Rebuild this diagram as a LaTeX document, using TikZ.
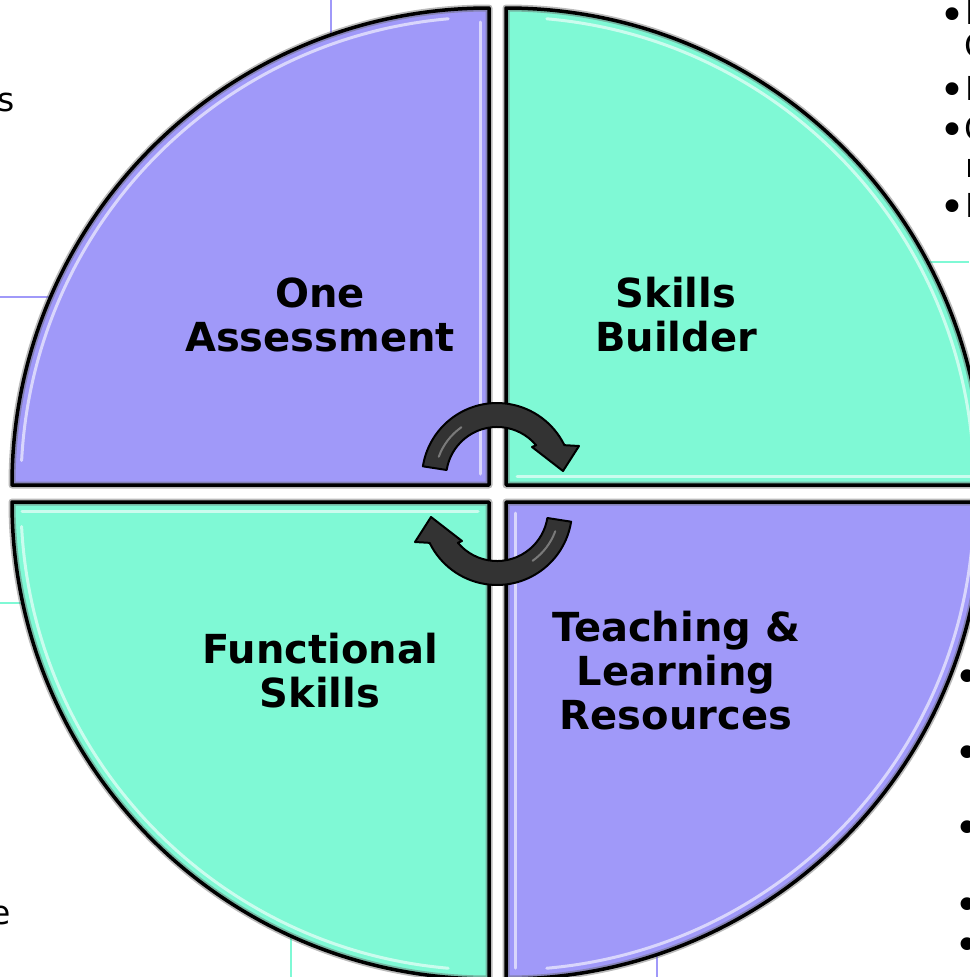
\documentclass[tikz,border=0pt]{standalone}
\usepackage{fontspec}
\setmainfont{DejaVu Sans}
\definecolor{lav}{HTML}{A099F9}
\definecolor{mint}{HTML}{7FF9D5}
\definecolor{arrowgray}{HTML}{333333}
\tikzset{
  bgline/.style={line width=2},
  quad/.style={draw=black, line width=3.5, line join=round},
  shade/.style={draw=black!60, line width=7, opacity=.45, line join=round},
  glint/.style={draw=white, line width=3, opacity=.6, line cap=round},
  arrowbody/.style={fill=arrowgray, draw=black, line width=2, line join=round},
  arrowglint/.style={draw=white, line width=2, opacity=.35, line cap=round},
  lbl/.style={font=\bfseries\fontsize{40}{44}\selectfont, align=center, inner sep=0},
  frag/.style={font=\fontsize{33}{38}\selectfont, inner sep=0},
  bul/.style={font=\fontsize{44}{50}\selectfont, inner sep=0, anchor=base west}
}
\begin{document}
\begin{tikzpicture}[x=1pt,y=-1pt]
\useasboundingbox (0,0) rectangle (969,977);
% background table lines
\draw[bgline, lav] (331,0) -- (331,40);
\draw[bgline, lav] (0,297) -- (60,297);
\draw[bgline, mint] (920,262) -- (969,262);
\draw[bgline, mint] (0,603) -- (30,603);
\draw[bgline, mint] (291,930) -- (291,977);
\draw[bgline, lav] (657,950) -- (657,977);
% quadrants
\fill[lav] (489,485) -- (489,8) arc[start angle=270,end angle=180,radius=477] -- cycle;
\fill[mint] (506,485) -- (506,8) arc[start angle=270,end angle=360,radius=477] -- cycle;
\fill[mint] (489,502) -- (12,502) arc[start angle=180,end angle=90,radius=477] -- cycle;
\fill[lav] (506,502) -- (983,502) arc[start angle=0,end angle=90,radius=477] -- cycle;
% bevel highlights
\draw[glint] (480,22) -- (480,474);
\draw[glint] (448.2,18.8) arc[start angle=265,end angle=183,radius=468];
\draw[glint] (517,476) -- (975,476);
\draw[glint] (546.8,18.8) arc[start angle=275,end angle=357,radius=468];
\draw[glint] (22,511) -- (478,511);
\draw[glint] (21.6,526.5) arc[start angle=177,end angle=95,radius=468];
\draw[glint] (515,513) -- (515,968);
\draw[glint] (972.2,542.8) arc[start angle=5,end angle=85,radius=468];
% outlines
\foreach \s in {shade, quad}{
\draw[\s] (489,485) -- (489,8) arc[start angle=270,end angle=180,radius=477] -- cycle;
\draw[\s] (506,485) -- (506,8) arc[start angle=270,end angle=360,radius=477] -- cycle;
\draw[\s] (489,502) -- (12,502) arc[start angle=180,end angle=90,radius=477] -- cycle;
\draw[\s] (506,502) -- (983,502) arc[start angle=0,end angle=90,radius=477] -- cycle;
}
% circular arrows
\path[arrowbody] (422.9,466.3) arc[start angle=189,end angle=334,radius=75] -- (579,446) -- (563,471) -- (532,447) -- (536.1,445.2) arc[start angle=320,end angle=189,radius=51] -- cycle;
\draw[arrowglint] (497,478) ++(200:62) arc[start angle=200,end angle=235,radius=62];
\begin{scope}[rotate around={180:(497,494)}]
\path[arrowbody] (422.9,466.3) arc[start angle=189,end angle=334,radius=75] -- (579,446) -- (563,471) -- (532,447) -- (536.1,445.2) arc[start angle=320,end angle=189,radius=51] -- cycle;
\draw[arrowglint] (497,478) ++(200:62) arc[start angle=200,end angle=235,radius=62];
\end{scope}
% labels
\node[lbl] (oa) at (320,315) {One\\Assessment};
\node[lbl] (sb) at (676,315) {Skills\\Builder};
\node[lbl] (fs) at (320,671) {Functional\\Skills};
\node[lbl] (tl) at (676,671) {Teaching \&\\Learning\\Resources};
% cut-off text at the edges
\node[frag, anchor=base east] (s1) at (15,111) {s};
\node[frag, anchor=base east] (e1) at (11,924) {e};
\node[bul] (b1) at (939,30) {•};
\node[frag, anchor=base west] (t1) at (965,24) {I};
\node[frag, anchor=base west] (t1b) at (964,57) {C};
\node[bul] (b2) at (939,105) {•};
\node[frag, anchor=base west] (t2) at (965,100) {L};
\node[bul] (b3) at (939,145) {•};
\node[frag, anchor=base west] (t3) at (964,140) {C};
\node[frag, anchor=base west] (t3b) at (965,177) {n};
\node[bul] (b4) at (939,222) {•};
\node[frag, anchor=base west] (t4) at (965,217) {I};
\foreach \y [count=\i] in {692,768,843,920,960}{
  \node[bul] (c\i) at (954,\y) {•};
}
\end{tikzpicture}
\end{document}
